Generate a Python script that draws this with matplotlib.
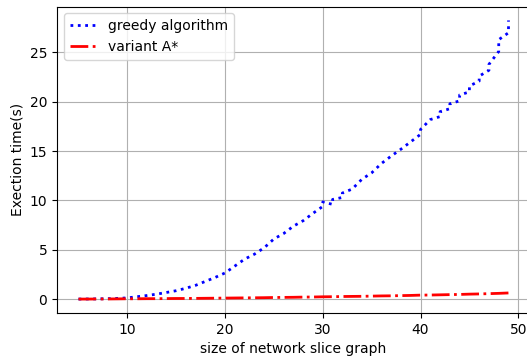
#!/usr/bin/env python3
"""Execution time of greedy algorithm vs. variant A* by network slice graph size."""

import matplotlib

matplotlib.use("Agg")
import matplotlib.pyplot as plt

# ─── Data ─────────────────────────────────────────────────────────────────────
# greedy: each graph size has a low and a high measurement (line jumps vertically)
graph_size = list(range(5, 50))
greedy_low = [
    0.00, 0.01, 0.02, 0.04, 0.07, 0.12, 0.24, 0.36, 0.50, 0.67,
    0.85, 1.10, 1.40, 1.80, 2.20, 2.65, 3.35, 4.05, 4.55, 5.20,
    6.10, 6.65, 7.40, 7.95, 8.70, 9.40, 9.60, 10.30, 11.15, 12.15,
    12.80, 13.75, 14.50, 15.20, 15.95, 16.70, 18.20, 18.50, 19.30, 20.10,
    21.00, 22.10, 23.20, 25.10, 27.00,
]
greedy_high = [
    0.00, 0.01, 0.02, 0.04, 0.07, 0.12, 0.24, 0.36, 0.50, 0.67,
    0.85, 1.10, 1.40, 1.80, 2.20, 2.65, 3.35, 4.05, 4.55, 5.20,
    6.10, 6.65, 7.40, 7.95, 8.70, 9.85, 10.10, 10.75, 11.15, 12.15,
    12.80, 13.75, 14.50, 15.20, 15.95, 17.20, 18.20, 19.00, 19.80, 20.70,
    21.60, 22.60, 23.80, 26.30, 28.25,
]
astar_time = [
    0.00, 0.00, 0.01, 0.01, 0.02, 0.03, 0.03, 0.04, 0.04, 0.05,
    0.06, 0.06, 0.07, 0.08, 0.09, 0.10, 0.11, 0.12, 0.13, 0.14,
    0.16, 0.17, 0.18, 0.20, 0.21, 0.23, 0.24, 0.26, 0.27, 0.28,
    0.30, 0.32, 0.33, 0.35, 0.37, 0.40, 0.41, 0.43, 0.45, 0.47,
    0.50, 0.52, 0.55, 0.58, 0.62,
]


def main() -> None:
    # interleave low/high measurements so the line steps at each size
    greedy_x, greedy_y = [], []
    for n, lo, hi in zip(graph_size, greedy_low, greedy_high):
        greedy_x += [n, n]
        greedy_y += [lo, hi]

    fig = plt.figure(figsize=(5.27, 3.62), dpi=100)
    ax = fig.add_axes([57 / 527, 49 / 362, 473 / 527, 306.5 / 362])

    ax.plot(greedy_x, greedy_y, ":", color="blue", linewidth=2, label="greedy algorithm")
    ax.plot(graph_size, astar_time, "-.", color="red", linewidth=2, label="variant A*")

    ax.set_xlabel("size of network slice graph")
    ax.set_ylabel("Exection time(s)")
    ax.grid(True)
    ax.legend(loc="upper left")

    fig.savefig("out.png", dpi=100)


if __name__ == "__main__":
    main()
